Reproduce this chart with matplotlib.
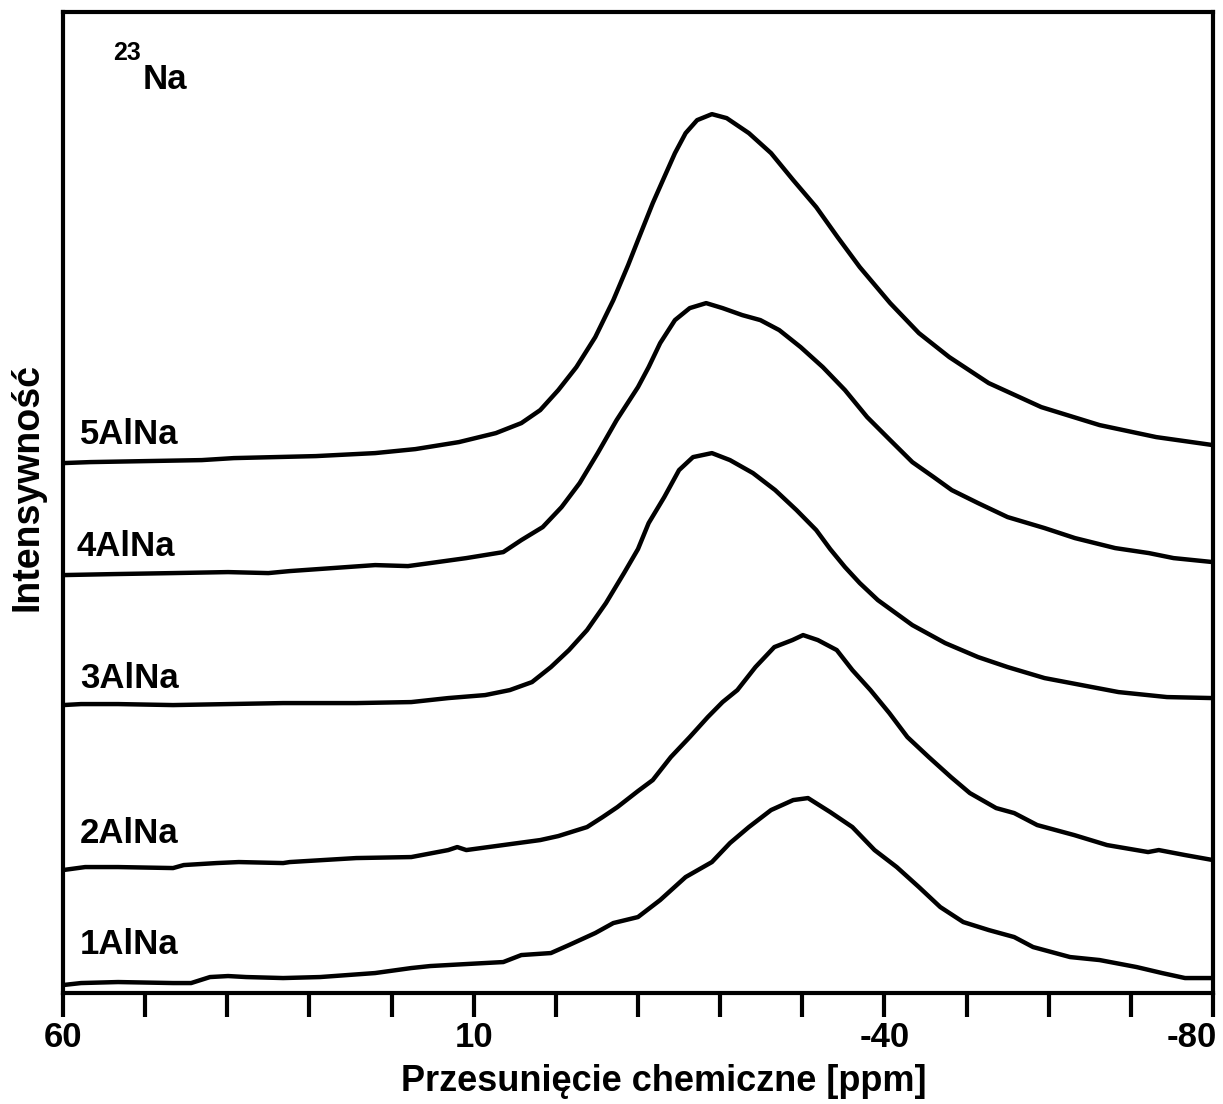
import matplotlib
matplotlib.use("Agg")
import matplotlib.pyplot as plt
import matplotlib.transforms as mtransforms
import numpy as np

plt.rcParams['font.family'] = ['Liberation Sans', 'DejaVu Sans']
plt.rcParams['font.weight'] = 'bold'

# 23Na spectra, stacked (ppm, intensity in arbitrary units incl. offset)
ppm_5 = [60.0, 56.7, 43.1, 39.2, 29.2, 22.0, 17.1, 11.8, 7.3, 4.2, 1.9, -0.3, -2.5,
         -4.8, -7.0, -8.8, -10.0, -11.8, -13.2, -14.5, -15.8, -17.2, -19.0, -20.8,
         -23.5, -26.2, -28.9, -31.7, -34.3, -37.0, -40.7, -44.2, -47.9, -52.7,
         -59.1, -66.2, -73.1, -80.0]
int_5 = [53.0, 53.1, 53.3, 53.5, 53.7, 54.0, 54.4, 55.1, 56.0, 57.0, 58.3, 60.3, 62.6,
         65.6, 69.3, 72.8, 75.3, 79.0, 81.6, 84.0, 86.0, 87.3, 87.9, 87.5,
         86.0, 84.0, 81.3, 78.6, 75.6, 72.6, 69.0, 66.0, 63.6, 61.0,
         58.6, 56.8, 55.6, 54.8]

ppm_4 = [60.0, 53.8, 46.6, 39.9, 35.0, 32.4, 22.0, 18.0, 15.3, 10.9, 6.4, 4.2, 1.6,
         -0.7, -2.9, -5.1, -7.4, -10.0, -11.3, -12.7, -14.5, -16.3, -18.3, -20.3,
         -22.7, -24.9, -27.2, -29.8, -32.5, -35.2, -37.9, -40.7, -43.4, -46.0,
         -48.2, -51.4, -55.0, -59.5, -63.2, -68.1, -72.2, -75.2, -80.0]
int_4 = [41.8, 41.9, 42.0, 42.1, 42.0, 42.2, 42.8, 42.7, 43.0, 43.5, 44.1, 45.3, 46.6,
         48.6, 51.0, 54.0, 57.3, 60.6, 62.6, 65.0, 67.3, 68.5, 69.0, 68.5,
         67.8, 67.3, 66.3, 64.6, 62.6, 60.3, 57.6, 55.3, 53.1, 51.6,
         50.3, 49.0, 47.6, 46.5, 45.5, 44.5, 44.0, 43.5, 43.1]

ppm_3 = [60.0, 57.8, 53.3, 46.6, 39.9, 33.2, 24.3, 17.6, 13.1, 8.6, 5.6, 2.9, 0.6,
         -1.6, -3.8, -6.1, -8.3, -10.0, -11.3, -13.2, -15.0, -16.7, -19.0, -21.2,
         -24.0, -26.7, -29.3, -31.7, -33.4, -35.2, -37.0, -39.2, -43.4, -47.4,
         -51.4, -55.0, -59.5, -64.0, -68.5, -74.4, -80.0]
int_3 = [28.8, 28.9, 28.9, 28.8, 28.9, 29.0, 29.0, 29.1, 29.5, 29.8, 30.3, 31.1, 32.6,
         34.3, 36.3, 39.0, 42.0, 44.4, 47.0, 49.6, 52.3, 53.6, 54.0, 53.3,
         52.0, 50.3, 48.3, 46.3, 44.4, 42.6, 41.0, 39.3, 36.8, 35.0,
         33.6, 32.6, 31.5, 30.8, 30.1, 29.6, 29.5]

ppm_2 = [60.0, 57.3, 53.3, 46.6, 45.3, 41.3, 38.6, 33.2, 32.4, 24.3, 17.6, 13.1, 12.0,
         10.9, 6.4, 1.9, -0.3, -3.8, -5.7, -7.5, -10.0, -11.8, -14.0, -16.3, -18.5,
         -20.3, -22.1, -24.3, -26.6, -28.8, -30.1, -31.9, -34.2, -36.1, -38.3,
         -40.6, -42.8, -45.4, -48.1, -50.4, -53.6, -55.8, -58.6, -63.1, -67.1,
         -72.1, -73.4, -76.6, -80.0]
int_2 = [12.3, 12.6, 12.6, 12.5, 12.8, 13.0, 13.1, 13.0, 13.1, 13.5, 13.6, 14.3, 14.6,
         14.3, 14.8, 15.3, 15.7, 16.6, 17.6, 18.6, 20.2, 21.3, 23.6, 25.6, 27.6,
         29.1, 30.3, 32.6, 34.6, 35.3, 35.8, 35.3, 34.3, 32.3, 30.3,
         28.0, 25.6, 23.6, 21.6, 20.0, 18.5, 18.0, 16.8, 15.8, 14.8,
         14.1, 14.3, 13.8, 13.3]

ppm_1 = [60.0, 57.8, 53.3, 46.6, 44.4, 42.1, 39.9, 37.7, 33.2, 28.7, 22.0, 17.6, 15.3,
         10.9, 6.4, 4.2, 0.6, -1.6, -4.8, -7.0, -10.0, -12.7, -15.8, -19.0, -21.2,
         -23.5, -26.2, -28.9, -30.7, -33.4, -36.1, -38.8, -41.5, -44.2, -46.8,
         -49.6, -52.7, -55.8, -58.1, -62.6, -66.2, -70.7, -73.8, -76.6, -80.0]
int_1 = [0.8, 1.0, 1.1, 1.0, 1.0, 1.6, 1.7, 1.6, 1.5, 1.6, 2.0, 2.5, 2.7,
         2.9, 3.1, 3.8, 4.0, 4.8, 6.0, 7.0, 7.6, 9.3, 11.6, 13.1, 15.0,
         16.6, 18.3, 19.3, 19.5, 18.1, 16.6, 14.3, 12.6, 10.6, 8.6,
         7.1, 6.3, 5.6, 4.6, 3.6, 3.3, 2.6, 2.0, 1.5, 1.5]

sample_names = ['5AlNa', '4AlNa', '3AlNa', '2AlNa', '1AlNa']
label_x = [57.9, 58.4, 57.9, 57.9, 57.9]
label_y = [55.9, 44.7, 31.5, 16.0, 4.9]

tick_values = [60, 50, 40, 30, 20, 10, 0, -10, -20, -30, -40, -50, -60, -70, -80]
tick_labels = ['60', '', '', '', '', '10', '', '', '', '', '-40', '', '', '', '-80']

fig = plt.figure(figsize=(12.23, 11.04), dpi=100)
ax = fig.add_axes([0.0515, 0.1005, 0.9403, 0.8885])

spectra = [(ppm_5, int_5), (ppm_4, int_4), (ppm_3, int_3), (ppm_2, int_2), (ppm_1, int_1)]
for (x, y), name, lx, ly in zip(spectra, sample_names, label_x, label_y):
    ax.plot(np.array(x), np.array(y), color='black', lw=3.2,
            solid_joinstyle='round', solid_capstyle='butt')
    ax.text(lx, ly, name, fontsize=25, fontweight='bold', ha='left', va='center')

ax.set_xlim(60, -80)
ax.set_ylim(0, 98.1)
ax.set_xticks(tick_values)
ax.set_xticklabels(tick_labels, fontsize=25, fontweight='bold')
ax.set_yticks([])
ax.tick_params(axis='x', direction='out', length=17, width=3, pad=3)
for s in ax.spines.values():
    s.set_linewidth(3)

# last label sits flush with the right edge
last = ax.get_xticklabels()[-1]
last.set_ha('right')
last.set_transform(last.get_transform() +
                   mtransforms.ScaledTranslation(4 / 100, 0, fig.dpi_scale_trans))

ax.text(0.0696, 0.931, 'Na', transform=ax.transAxes, fontsize=25, fontweight='bold',
        ha='left', va='center')
ax.text(0.0435, 0.958, '23', transform=ax.transAxes, fontsize=18, fontweight='bold',
        ha='left', va='center')

ax.set_xlabel('Przesunięcie chemiczne [ppm]', fontsize=26, fontweight='bold')
ax.xaxis.set_label_coords(0.522, -0.072)
ax.set_ylabel('Intensywność', fontsize=27, fontweight='bold')
ax.yaxis.set_label_coords(-0.0155, 0.516)

fig.savefig('out.png', dpi=100)
